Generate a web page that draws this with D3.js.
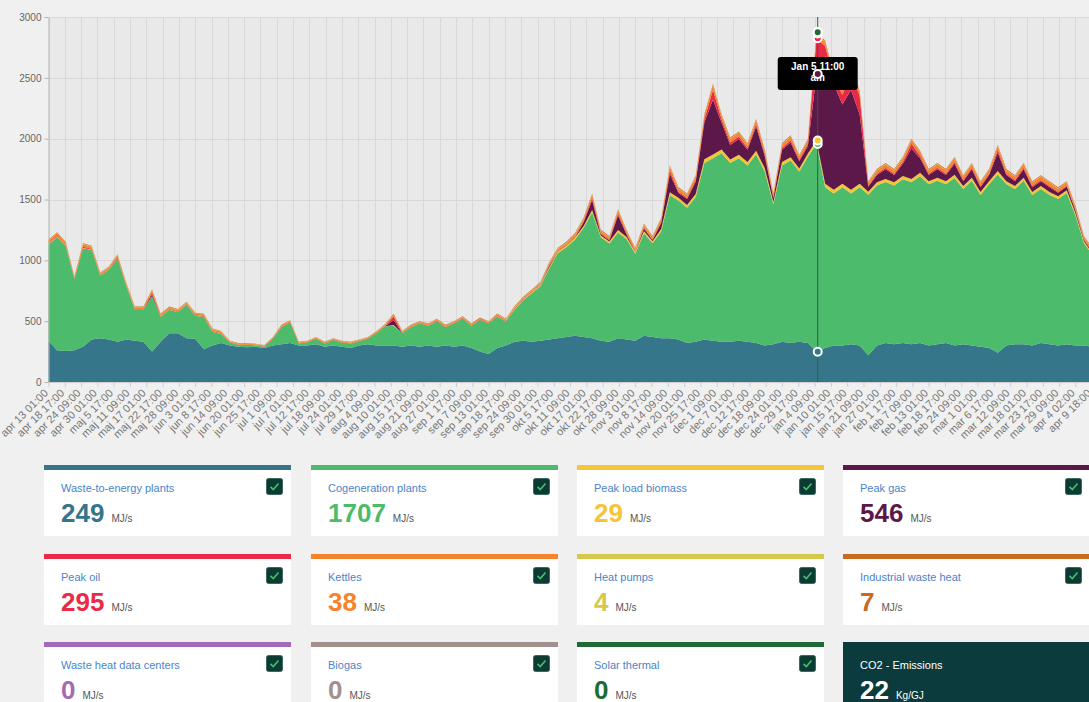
<!DOCTYPE html>
<html>
<head>
<meta charset="utf-8">
<script src="https://cdn.jsdelivr.net/npm/d3@7"></script>
<style>
  body { margin: 0; background: #f0f0f0; font-family: "Liberation Sans", Arial, sans-serif; overflow: hidden; width: 1089px; height: 702px; position: relative; }
  #chart { position: absolute; left: 0; top: 0; }
  .card { position: absolute; width: 247px; height: 66px; background: #fff; border-top: 5px solid #ccc; box-sizing: content-box; }
  .card .label { position: absolute; left: 17px; top: 11px; font-size: 11px; line-height: 14px; color: #4a84c9; white-space: nowrap; }
  .card .value { position: absolute; left: 17px; top: 30px; display: flex; align-items: baseline; white-space: nowrap; }
  .card .num { font-size: 26px; line-height: 26px; font-weight: bold; }
  .card .unit { font-size: 10px; margin-left: 7px; color: #555; }
  .card .check { position: absolute; left: 222px; top: 8px; width: 17px; height: 17px; }
  .card.co2 { background: #0b3b3d; border-top: none; height: 71px; }
  .card.co2 .label { color: #fff; top: 16px; }
  .card.co2 .value { top: 35px; }
  .card.co2 .num, .card.co2 .unit { color: #fff; }
</style>
</head>
<body>
<div id="chart"></div>
<div id="cards"></div>
<script>
// sample days (offset from apr 13 01:00)
const days = [0,3,6,9,12,15,18,21,24,27,30,33,36,39,42,45,48,51,54,57,60,63,66,69,72,75,78,81,84,87,
  90,93,96,99,102,105,108,111,114,117,120,123,126,129,132,135,138,141,144,147,150,153,156,159,162,165,168,171,174,177,
  180,183,186,189,192,195,198,201,204,207,210,213,216,219,222,225,228,231,234,237,240,243,246,249,252,255,258,261,264,267,
  270,273,276,279,282,285,288,291,294,297,300,303,306,309,312,315,318,321,324,327,330,333,336,339,342,345,348,351,354,357,
  360,363];

const waste = [340,260,255,260,290,350,360,350,330,350,
  340,330,250,330,400,400,360,355,270,300,
  320,300,290,285,290,280,300,310,320,300,
  300,310,290,300,290,280,300,310,300,300,
  300,290,300,290,300,290,300,290,300,280,
  250,230,280,300,330,340,330,340,350,360,
  370,380,370,360,340,330,360,350,340,380,
  370,360,360,350,320,330,350,340,330,330,
  340,330,320,300,310,330,320,330,320,249,
  280,300,300,310,300,220,300,320,310,320,
  310,320,300,310,320,300,310,300,290,280,
  240,300,310,310,300,320,310,300,310,300,
  300,290];

const cogen = [793,929,862,584,808,737,514,572,683,444,
  254,264,452,204,194,174,274,189,264,114,
  74,25,15,20,10,10,55,140,168,15,
  25,45,25,45,35,35,35,45,100,158,
  163,110,150,190,160,210,150,190,220,180,
  260,250,258,198,261,330,400,448,579,698,
  738,790,895,1034,849,809,869,823,714,843,
  770,877,1174,1142,1112,1191,1450,1500,1550,1470,
  1500,1450,1550,1430,1150,1450,1500,1400,1531,1707,
  1320,1250,1300,1240,1300,1319,1316,1324,1306,1346,
  1331,1371,1326,1344,1306,1376,1276,1354,1246,1346,
  1466,1326,1276,1344,1236,1266,1226,1204,1244,1069,
  840,750];

const biomass = [5,5,4,2,4,3,2,2,3,2,
  2,2,2,2,2,2,2,2,2,2,
  2,0,0,0,0,0,0,0,0,0,
  0,0,0,0,0,0,0,0,0,0,
  5,0,0,0,0,0,0,0,0,0,
  0,0,2,2,5,5,5,8,10,12,
  12,15,15,20,15,15,20,18,15,18,
  16,20,25,22,22,25,30,30,30,28,
  28,28,30,28,20,28,28,25,28,29,
  30,30,30,30,30,25,25,25,25,28,
  28,28,25,25,25,28,25,25,25,25,
  28,25,25,25,25,25,25,22,22,20,
  15,15];

const gas = [0,0,0,0,0,0,0,0,0,0,
  0,0,15,0,0,0,0,0,0,0,
  0,0,0,0,0,0,0,0,0,0,
  0,0,0,0,0,0,0,0,0,0,
  40,0,0,0,0,0,0,0,0,0,
  0,0,0,0,0,0,0,0,10,0,
  0,0,30,80,10,10,120,20,0,20,
  10,50,150,40,50,100,300,450,220,120,
  130,100,200,100,30,100,120,60,60,546,
  1050,870,650,820,570,40,60,80,60,100,
  250,120,50,70,50,90,40,70,40,50,
  150,50,40,70,40,40,40,30,30,20,
  10,10];

const oil = [6,8,5,4,10,6,4,4,8,4,
  4,4,15,4,4,4,4,4,4,4,
  4,2,2,2,2,2,2,3,3,2,
  2,2,2,2,2,2,2,2,3,3,
  30,3,3,3,3,3,3,3,3,3,
  3,3,4,4,4,4,4,4,8,6,
  6,8,10,20,8,8,15,8,6,8,
  6,10,30,10,10,15,30,80,30,20,
  20,15,20,15,10,15,20,12,20,295,
  80,40,80,150,150,10,10,12,10,15,
  40,20,10,12,10,15,10,12,10,10,
  25,10,10,12,10,10,10,8,8,8,
  6,6];

const kettles = [18,20,16,12,20,16,12,14,18,12,
  12,12,18,12,12,12,12,12,12,12,
  12,8,8,8,8,8,8,10,10,8,
  8,8,8,8,8,8,8,8,10,10,
  15,10,10,10,10,10,10,10,10,10,
  10,10,10,10,12,12,12,12,15,15,
  15,18,20,25,18,18,25,20,15,20,
  17,22,30,25,25,28,30,40,30,30,
  30,28,30,28,25,28,30,28,30,38,
  35,35,35,40,35,25,28,28,28,30,
  30,30,28,28,28,30,28,28,28,28,
  30,28,28,28,28,28,28,25,25,22,
  18,18];

const heatPumps = [3,3,3,3,3,3,3,3,3,3,
  3,3,3,3,3,3,3,3,3,3,
  3,2,2,2,2,2,2,2,2,2,
  2,2,2,2,2,2,2,2,2,2,
  2,2,2,2,2,2,2,2,2,2,
  2,2,3,3,4,4,4,4,4,4,
  4,4,4,4,4,4,4,4,4,4,
  4,4,4,4,4,4,4,4,4,4,
  4,4,4,4,4,4,4,4,4,4,
  4,4,4,4,4,4,4,4,4,4,
  4,4,4,4,4,4,4,4,4,4,
  4,4,4,4,4,4,4,4,4,4,
  4,4];

const industrial = [5,5,5,5,5,5,5,5,5,5,
  5,5,5,5,5,5,5,5,5,5,
  5,3,3,3,3,3,3,5,5,3,
  3,3,3,3,3,3,3,3,3,3,
  5,5,5,5,5,5,5,5,5,5,
  5,5,5,5,6,6,6,6,6,6,
  7,7,7,7,7,7,7,7,7,7,
  7,7,7,7,7,7,7,7,7,7,
  7,7,7,7,7,7,7,7,7,7,
  7,7,7,7,7,7,7,7,7,7,
  7,7,7,7,7,7,7,7,7,7,
  7,7,7,7,7,7,7,7,7,7,
  7,7];

const tickLabels = ["apr 13 01:00","apr 18 17:00","apr 24 09:00","apr 30 01:00","maj 5 17:00","maj 11 09:00","maj 17 01:00","maj 22 17:00","maj 28 09:00",
  "jun 3 01:00","jun 8 17:00","jun 14 09:00","jun 20 01:00","jun 25 17:00","jul 1 09:00","jul 7 01:00","jul 12 17:00","jul 18 09:00","jul 24 01:00","jul 29 17:00",
  "aug 4 09:00","aug 10 01:00","aug 15 17:00","aug 21 09:00","aug 27 01:00","sep 1 17:00","sep 7 09:00","sep 13 01:00","sep 18 17:00","sep 24 09:00","sep 30 01:00",
  "okt 5 17:00","okt 11 09:00","okt 17 01:00","okt 22 17:00","okt 28 09:00","nov 3 01:00","nov 8 17:00","nov 14 09:00","nov 20 01:00","nov 25 17:00",
  "dec 1 09:00","dec 7 01:00","dec 12 17:00","dec 18 09:00","dec 24 01:00","dec 29 17:00","jan 4 09:00","jan 10 01:00","jan 15 17:00","jan 21 09:00","jan 27 01:00",
  "feb 1 17:00","feb 7 09:00","feb 13 01:00","feb 18 17:00","feb 24 09:00","mar 1 01:00","mar 6 17:00","mar 12 09:00","mar 18 01:00","mar 23 17:00","mar 29 09:00",
  "apr 4 02:00","apr 9 18:00"];
const yTicks = [0,500,1000,1500,2000,2500,3000];

const cardNames = ["Waste-to-energy plants","Cogeneration plants","Peak load biomass","Peak gas","Peak oil","Kettles","Heat pumps","Industrial waste heat","Waste heat data centers","Biogas","Solar thermal"];
const cardValues = [249,1707,29,546,295,38,4,7,0,0,0];
const co2Value = 22;
const hoverLabel = ["Jan 5 11:00","am"];
const hoverHour = 6418;

const keys = ["waste","cogen","biomass","gas","oil","kettles","heatPumps","industrial"];
const colors = ["#36768a","#4cbb6b","#f5c437","#5b1848","#ea2b48","#f5842d","#d6c84a","#c96a20","#a56ab4","#a38f8c","#1e6b36"];

const width = 1100, height = 460;
const margin = {top: 17, left: 48.5, bottom: 382};
const hourWidth = 16.3 / 136;

const rows = days.map((d, i) => ({
  hour: d * 24, waste: waste[i], cogen: cogen[i], biomass: biomass[i], gas: gas[i],
  oil: oil[i], kettles: kettles[i], heatPumps: heatPumps[i], industrial: industrial[i]
}));

const x = d3.scaleLinear().domain([0, 8760]).range([margin.left, margin.left + 8760 * hourWidth]);
const y = d3.scaleLinear().domain([0, 3000]).range([margin.bottom, margin.top]);
const tickHours = tickLabels.map((d, i) => i * 136);

const svg = d3.select("#chart").append("svg")
  .attr("width", width).attr("height", height)
  .style("font-family", "'Liberation Sans', Arial, sans-serif");

svg.append("rect")
  .attr("x", margin.left).attr("y", margin.top)
  .attr("width", width - margin.left).attr("height", margin.bottom - margin.top)
  .attr("fill", "#e9e9e9");

// grid
svg.append("g")
  .attr("stroke", "#d8d8d8")
  .call(g => g.selectAll("line.v").data(tickHours).join("line")
    .attr("x1", d => Math.round(x(d)) + 0.5).attr("x2", d => Math.round(x(d)) + 0.5)
    .attr("y1", margin.top).attr("y2", margin.bottom))
  .call(g => g.selectAll("line.h").data(yTicks).join("line")
    .attr("y1", d => Math.round(y(d)) + 0.5).attr("y2", d => Math.round(y(d)) + 0.5)
    .attr("x1", margin.left).attr("x2", width));

const series = d3.stack().keys(keys)(rows);
const area = d3.area()
  .x(d => x(d.data.hour))
  .y0(d => y(d[0]))
  .y1(d => y(d[1]));

svg.append("g")
  .selectAll("path")
  .data(series)
  .join("path")
  .attr("fill", (d, i) => colors[i])
  .attr("d", area);

// axes
svg.append("g")
  .attr("transform", `translate(0,${margin.bottom})`)
  .call(d3.axisBottom(x).tickValues(tickHours).tickFormat((d, i) => tickLabels[i]).tickSize(5).tickSizeOuter(0))
  .call(g => g.select(".domain").attr("stroke", "#cfcfcf"))
  .call(g => g.selectAll(".tick line").attr("stroke", "#cfcfcf"))
  .call(g => g.selectAll(".tick text")
    .attr("x", 0).attr("y", 0).attr("dy", "0.35em")
    .attr("transform", "translate(-3,9) rotate(-45)")
    .attr("text-anchor", "end")
    .attr("fill", "#777")
    .attr("font-size", 11));

svg.append("g")
  .attr("transform", `translate(${margin.left},0)`)
  .call(d3.axisLeft(y).tickValues(yTicks).tickFormat(d3.format("d")).tickSize(4).tickPadding(3).tickSizeOuter(0))
  .call(g => g.select(".domain").attr("stroke", "#b5b5b5"))
  .call(g => g.selectAll(".tick line").attr("stroke", "#b5b5b5"))
  .call(g => g.selectAll(".tick text").attr("fill", "#666").attr("font-size", 10));

// hover marker
const hx = x(hoverHour);
svg.append("line")
  .attr("x1", hx).attr("x2", hx)
  .attr("y1", margin.top).attr("y2", margin.bottom)
  .attr("stroke", "#2f5c4f").attr("stroke-width", 1);

const tip = svg.append("g").attr("transform", `translate(${hx},57)`);
tip.append("rect")
  .attr("x", -40).attr("y", 0).attr("width", 80).attr("height", 33)
  .attr("rx", 3).attr("fill", "#000");
tip.append("text")
  .attr("text-anchor", "middle").attr("fill", "#fff").attr("font-size", 10).attr("font-weight", "bold")
  .selectAll("tspan").data(hoverLabel).join("tspan")
  .attr("x", 0).attr("y", (d, i) => 13 + i * 11)
  .text(d => d);

const cum = d3.cumsum(cardValues);
svg.append("g")
  .selectAll("circle")
  .data(cardValues)
  .join("circle")
  .attr("cx", hx)
  .attr("cy", (d, i) => y(cum[i]))
  .attr("r", 4)
  .attr("fill", (d, i) => colors[i])
  .attr("stroke", "#fff")
  .attr("stroke-width", 2);

// cards
const colLeft = [44, 311, 577, 843];
const rowTop = [465, 554, 642];
const cardData = cardNames.map((name, i) => ({name, value: cardValues[i], color: colors[i], unit: "MJ/s", i}));
cardData.push({name: "CO2 - Emissions", value: co2Value, color: "#0b3b3d", unit: "Kg/GJ", i: 11, co2: true});

const cards = d3.select("#cards").selectAll("div.card")
  .data(cardData)
  .join("div")
  .attr("class", d => d.co2 ? "card co2" : "card")
  .style("left", d => colLeft[d.i % 4] + "px")
  .style("top", d => rowTop[Math.floor(d.i / 4)] + "px")
  .style("border-top-color", d => d.color);

cards.append("div").attr("class", "label").text(d => d.name);
const val = cards.append("div").attr("class", "value");
val.append("span").attr("class", "num").style("color", d => d.co2 ? "#fff" : d.color).text(d => d.value);
val.append("span").attr("class", "unit").text(d => d.unit);

const chk = cards.filter(d => !d.co2).append("svg").attr("class", "check")
  .attr("width", 17).attr("height", 17);
chk.append("rect").attr("x", 0.5).attr("y", 0.5).attr("width", 16).attr("height", 16)
  .attr("rx", 2).attr("fill", "#0c3b34").attr("stroke", "#3a6a5e");
chk.append("path").attr("d", "M4.5,8.8 L7.3,11.5 L12.5,5.5")
  .attr("fill", "none").attr("stroke", "#46c06c").attr("stroke-width", 1.6);
</script>
</body>
</html>
